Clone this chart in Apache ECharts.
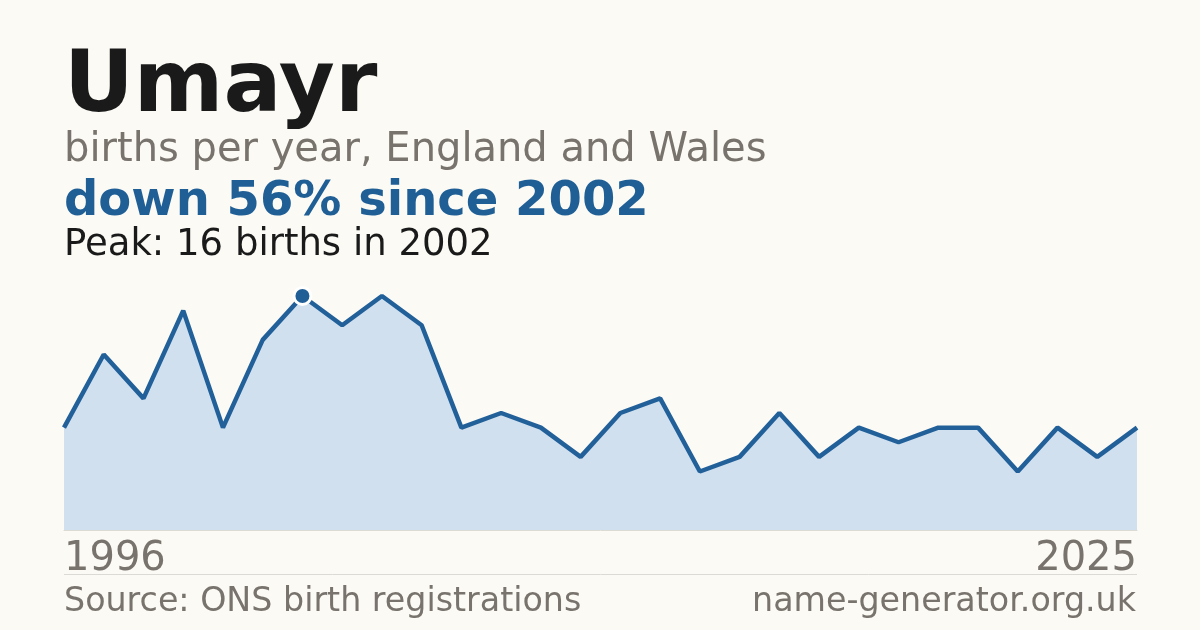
<!DOCTYPE html>
<html>
<head>
<meta charset="utf-8">
<script src="https://cdn.jsdelivr.net/npm/echarts@6/dist/echarts.min.js"></script>
<style>
  html, body { margin: 0; padding: 0; background: #fbfaf5; }
  #chart { width: 1200px; height: 630px; }
</style>
</head>
<body>
<div id="chart"></div>
<script>
// Years with published counts (28 evenly spaced points, first 1996, last 2025)
const years = [1996, 1997, 1998, 1999, 2000, 2001, 2002, 2003, 2004, 2005,
               2006, 2007, 2008, 2009, 2010, 2011, 2012, 2013, 2014, 2015,
               2016, 2017, 2018, 2019, 2020, 2021, 2024, 2025];
const births = [7, 12, 9, 15, 7, 13, 16, 14, 16, 14,
                7, 8, 7, 5, 8, 9, 4, 5, 8, 5,
                7, 6, 7, 7, 4, 7, 5, 7];
const titleText = 'Umayr';
const subtitleText = 'births per year, England and Wales';
const sourceText = 'Source: ONS birth registrations';
const siteText = 'name-generator.org.uk';

const FONT = '"DejaVu Sans", sans-serif';
const cats = years.map(String);
const peakVal = Math.max(...births);
const peakIdx = births.indexOf(peakVal);
const lastVal = births[births.length - 1];
const changePct = Math.round((peakVal - lastVal) / peakVal * 100);
const headline = 'down ' + changePct + '% since ' + years[peakIdx];
const peakLine = 'Peak: ' + peakVal + ' births in ' + years[peakIdx];

const chart = echarts.init(document.getElementById('chart'), null, { renderer: 'canvas' });
chart.setOption({
  backgroundColor: '#fbfaf5',
  animation: false,
  grid: { left: 64, right: 63, top: 296, bottom: 100, containLabel: false },
  xAxis: {
    type: 'category',
    data: cats,
    boundaryGap: false,
    axisLine: { show: true, lineStyle: { color: '#dcdad4', width: 1 } },
    axisTick: { show: false },
    splitLine: { show: false },
    axisLabel: {
      interval: function (i) { return i === 0 || i === cats.length - 1; },
      showMinLabel: true,
      showMaxLabel: true,
      alignMinLabel: 'left',
      alignMaxLabel: 'right',
      color: '#78736c',
      fontFamily: FONT,
      fontSize: 40,
      margin: 10
    }
  },
  yAxis: {
    type: 'value',
    min: 0,
    max: peakVal,
    show: false,
    splitLine: { show: false }
  },
  series: [
    {
      type: 'line',
      data: births,
      symbol: 'none',
      lineStyle: { color: '#22609a', width: 4.5 },
      areaStyle: { color: '#d0e0ef', opacity: 1 },
      z: 2
    },
    {
      type: 'scatter',
      data: [[peakIdx, peakVal]],
      symbol: 'circle',
      symbolSize: 17,
      itemStyle: { color: '#1f5f96', borderColor: '#ffffff', borderWidth: 3, opacity: 1 },
      z: 5
    }
  ],
  graphic: [
    { type: 'text', style: { text: titleText, x: 64, y: 89, font: 'bold 86px ' + FONT, fill: '#1a1a1a', textAlign: 'left', textVerticalAlign: 'middle' } },
    { type: 'text', style: { text: subtitleText, x: 64, y: 151, font: '40px ' + FONT, fill: '#78736c', textAlign: 'left', textVerticalAlign: 'middle' } },
    { type: 'text', style: { text: headline, x: 64, y: 203, font: 'bold 48px ' + FONT, fill: '#1f5f96', textAlign: 'left', textVerticalAlign: 'middle' } },
    { type: 'text', style: { text: peakLine, x: 64, y: 245, font: '37px ' + FONT, fill: '#1a1a1a', textAlign: 'left', textVerticalAlign: 'middle' } },
    { type: 'line', shape: { x1: 64, y1: 574.5, x2: 1137, y2: 574.5 }, style: { stroke: '#dcdad4', lineWidth: 1 } },
    { type: 'text', style: { text: sourceText, x: 64, y: 602, font: '33.3px ' + FONT, fill: '#78736c', textAlign: 'left', textVerticalAlign: 'middle' } },
    { type: 'text', style: { text: siteText, x: 1136, y: 602, font: '33.3px ' + FONT, fill: '#78736c', textAlign: 'right', textVerticalAlign: 'middle' } }
  ]
});
</script>
</body>
</html>
